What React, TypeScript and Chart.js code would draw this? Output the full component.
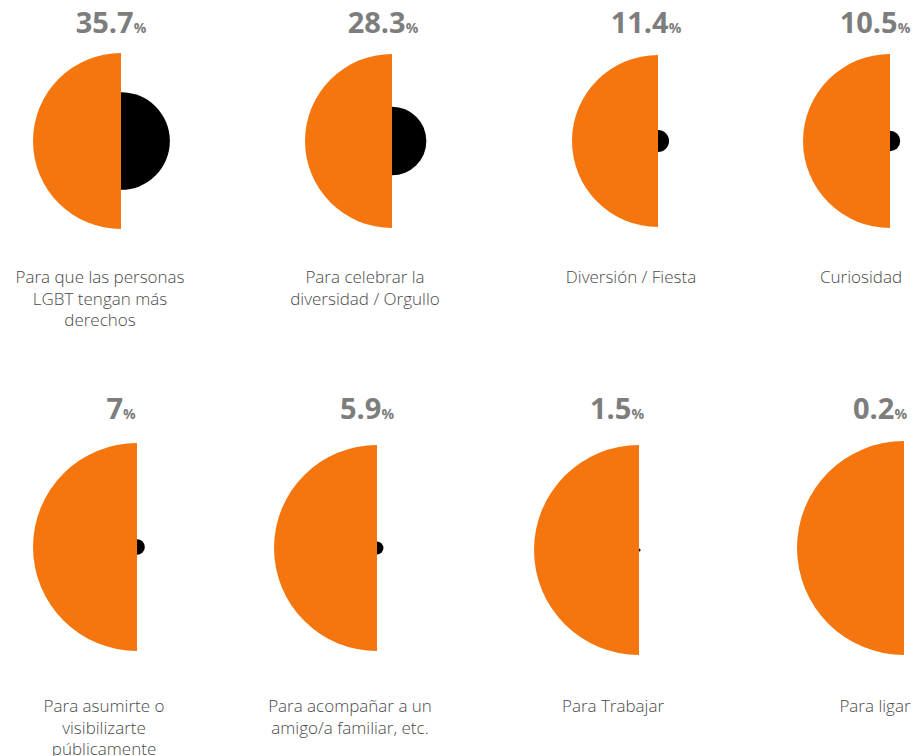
import React, { useEffect, useRef } from 'react';
import { Chart, registerables } from 'chart.js';

Chart.register(...registerables);

// ---- Data ----
const categories = [
  'Para que las personas LGBT tengan más derechos',
  'Para celebrar la diversidad / Orgullo',
  'Diversión / Fiesta',
  'Curiosidad',
  'Para asumirte o visibilizarte públicamente',
  'Para acompañar a un amigo/a familiar, etc.',
  'Para Trabajar',
  'Para ligar',
];
const labelLines = [
  ['Para que las personas', 'LGBT tengan más', 'derechos'],
  ['Para celebrar la', 'diversidad / Orgullo'],
  ['Diversión / Fiesta'],
  ['Curiosidad'],
  ['Para asumirte o', 'visibilizarte', 'públicamente'],
  ['Para acompañar a un', 'amigo/a familiar, etc.'],
  ['Para Trabajar'],
  ['Para ligar'],
];
const valueLabels = ['35.7', '28.3', '11.4', '10.5', '7', '5.9', '1.5', '0.2'];
const values = [35.7, 28.3, 11.4, 10.5, 7, 5.9, 1.5, 0.2];
const remainders = [64.3, 71.7, 88.6, 89.5, 93, 94.1, 98.5, 99.8];

// ---- Layout (page pixels) ----
const chartCenterX = [121, 392, 658, 890, 137, 377, 639, 904];
const chartCenterY = [141, 141, 141, 141, 547, 548, 550, 548];
const chartRadius = [88, 87, 86, 87, 104, 103, 105, 107];
const titleCenterX = [111, 383, 646, 875, 121, 367, 617, 880];
const labelCenterX = [100, 365, 631, 861, 104, 350, 613, 875];
const rowTitleTop = [7, 393];
const rowLabelTop = [266, 695];

const ORANGE = '#F5760E';
const BLACK = '#000000';
const FONT = '"Open Sans", "DejaVu Sans", sans-serif';

function HalfCircles({ i }: { i: number }) {
  const ref = useRef<HTMLCanvasElement | null>(null);
  const r = chartRadius[i];
  useEffect(() => {
    if (!ref.current) return;
    const chart = new Chart(ref.current, {
      type: 'polarArea',
      data: {
        labels: [categories[i], 'Resto'],
        datasets: [
          {
            data: [values[i], remainders[i]],
            backgroundColor: [BLACK, ORANGE],
            borderWidth: 0,
          },
        ],
      },
      options: {
        responsive: false,
        maintainAspectRatio: false,
        animation: false,
        layout: { padding: 0 },
        plugins: {
          legend: { display: false },
          tooltip: { enabled: false },
        },
        scales: {
          r: {
            display: false,
            min: 0,
            max: Math.max(values[i], remainders[i]),
            startAngle: 0,
          },
        },
      },
    } as any);
    return () => chart.destroy();
  }, [i]);
  return (
    <canvas
      ref={ref}
      width={2 * r}
      height={2 * r}
      style={{
        position: 'absolute',
        left: chartCenterX[i] - r,
        top: chartCenterY[i] - r,
        width: 2 * r,
        height: 2 * r,
      }}
    />
  );
}

export default function App() {
  return (
    <div
      style={{
        position: 'absolute',
        left: 0,
        top: 0,
        width: 914,
        height: 756,
        overflow: 'hidden',
        background: '#ffffff',
        fontFamily: FONT,
      }}
    >
      {values.map((_, i) => {
        const row = i < 4 ? 0 : 1;
        return (
          <React.Fragment key={i}>
            <div
              style={{
                position: 'absolute',
                left: titleCenterX[i] - 100,
                width: 200,
                top: rowTitleTop[row],
                textAlign: 'center',
                color: '#7d7d7d',
                fontWeight: 700,
                fontSize: 29,
                lineHeight: '29px',
                whiteSpace: 'nowrap',
              }}
            >
              {valueLabels[i]}
              <span style={{ fontSize: 14 }}>%</span>
            </div>
            <HalfCircles i={i} />
            <div
              style={{
                position: 'absolute',
                left: labelCenterX[i] - 130,
                width: 260,
                top: rowLabelTop[row],
                textAlign: 'center',
                color: '#4a4a4a',
                fontSize: 17,
                fontWeight: 300,
                lineHeight: '21.5px',
                whiteSpace: 'nowrap',
              }}
            >
              {labelLines[i].map((line, k) => (
                <div key={k}>{line}</div>
              ))}
            </div>
          </React.Fragment>
        );
      })}
    </div>
  );
}
